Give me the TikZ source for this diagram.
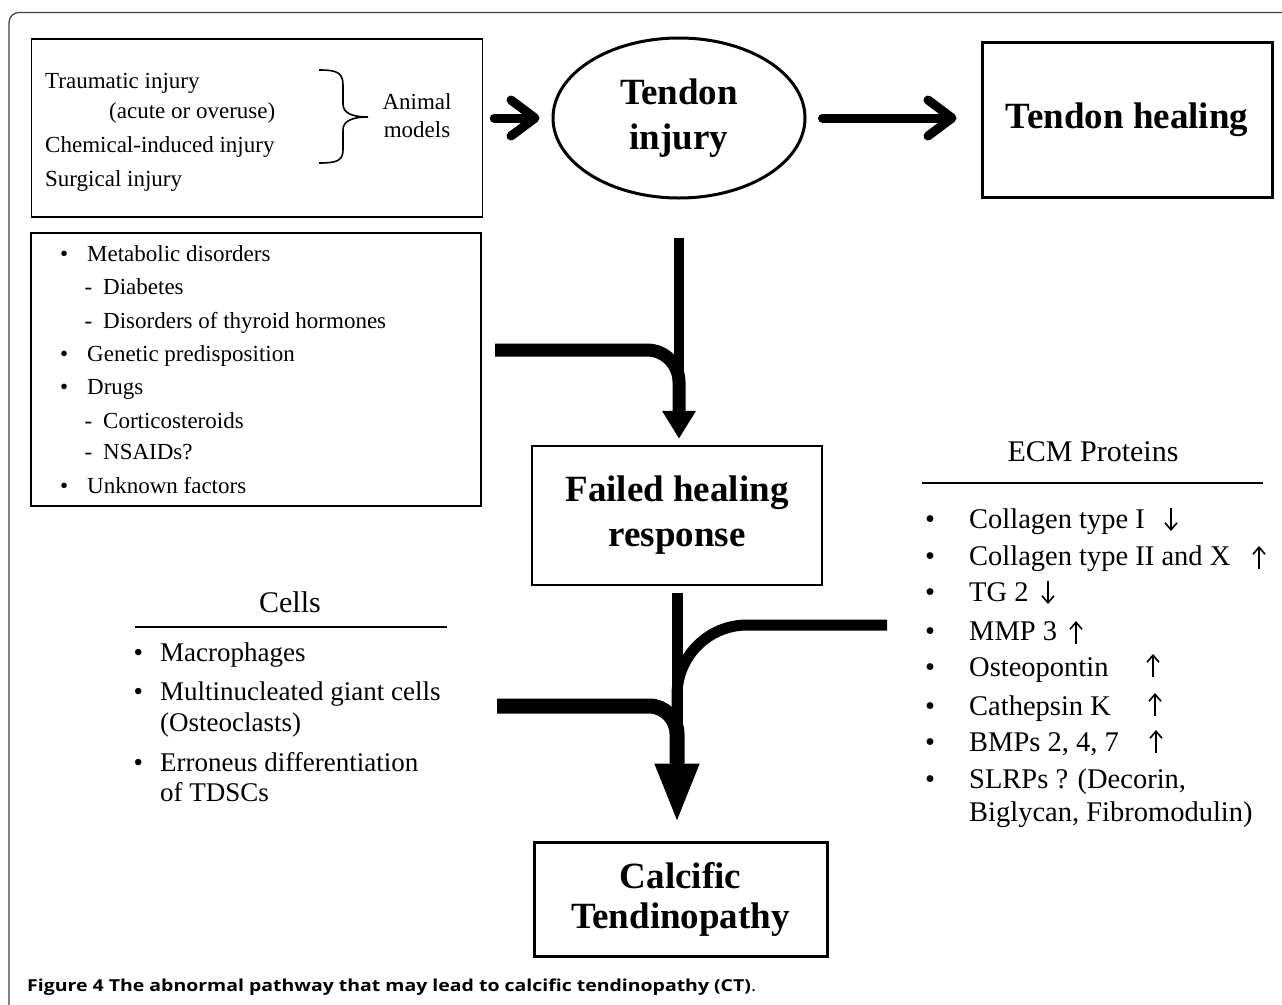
\documentclass[tikz,border=0pt]{standalone}
\usepackage{fontspec}
\setmainfont{Liberation Serif}
\newfontfamily\capfont{Open Sans}
\usepackage{tikz}
\usetikzlibrary{arrows.meta,shapes.geometric,positioning,calc}

\newcommand{\bul}[1]{\llap{\textbullet\hspace{#1}}}
\newcommand{\dsh}{\llap{-\hspace{11bp}}}

\tikzset{
  stage/.style={draw, line width=3bp, align=center, font=\fontsize{37bp}{45bp}\selectfont\bfseries},
  listbox/.style={draw, line width=1.5bp},
  anim/.style={anchor=west, font=\fontsize{23bp}{28bp}\selectfont, text height=16bp, text depth=3bp},
  cell/.style={anchor=west, font=\fontsize{27bp}{31bp}\selectfont, text height=19bp, text depth=3bp},
  ecm/.style={anchor=west, font=\fontsize{28.5bp}{33bp}\selectfont, text height=20bp, text depth=3bp},
  heading/.style={font=\fontsize{30bp}{34bp}\selectfont},
  flow/.style={line width=10bp},
  barb/.style={line width=9bp, line cap=round, -{Straight Barb[length=24bp,width=36bp,round]}},
  tick/.style={line width=1.6bp, -{Straight Barb[length=7bp,width=12bp]}},
}

\begin{document}
\begin{tikzpicture}[x=1bp,y=-1bp,every node/.style={inner sep=0pt}]
\useasboundingbox (0,0) rectangle (1282,1005);
% open frame
\draw[black!75, line width=1.2bp, rounded corners=10bp] (9,1005) -- (9,12.5) -- (1282,12.5);

%% top row
\node (animbox) [listbox, minimum width=451bp, minimum height=178bp] at (257,128) {};
\node (trauma) [anim] at (45,82) {Traumatic injury};
\node (acute) [anim] at (109,112) {(acute or overuse)};
\node (chem) [anim] at (45,146) {Chemical-induced injury};
\node (surg) [anim] at (45,180) {Surgical injury};
\draw[line width=1.6bp] (319,70) .. controls (336,70) and (343,72) .. (343,85) -- (343,104)
  .. controls (343,113) and (352,117) .. (368,117) .. controls (352,117) and (343,121) .. (343,130)
  -- (343,150) .. controls (343,161) and (336,163) .. (319,163);
\node (animal) [align=center, font=\fontsize{23bp}{28bp}\selectfont] at (417,116) {Animal\\models};

\node (injury) [stage, ellipse, minimum width=252bp, minimum height=160bp] at (679,118) {Tendon\\injury};
\node (heal) [stage, minimum width=290bp, minimum height=155bp] at (1127,119.5) {Tendon healing};
\draw[barb, shorten <=11bp, shorten >=12bp] (animbox.east |- injury.west) -- (injury.west);
\draw[barb, shorten <=16bp, shorten >=24bp] (injury.east) -- (injury.east -| heal.west);

%% risk factors
\node (factors) [listbox, minimum width=450bp, minimum height=273bp] at (256,369.5) {};
\node (f1) [anim] at (87,255) {\bul{19bp}Metabolic disorders};
\node (f2) [anim] at (103,288) {\dsh Diabetes};
\node (f3) [anim] at (103,322) {\dsh Disorders of thyroid hormones};
\node (f4) [anim] at (87,355) {\bul{19bp}Genetic predisposition};
\node (f5) [anim] at (87,388) {\bul{19bp}Drugs};
\node (f6) [anim] at (103,422) {\dsh Corticosteroids};
\node (f7) [anim] at (103,453) {\dsh NSAIDs?};
\node (f8) [anim] at (87,487) {\bul{19bp}Unknown factors};

\node (failed) [stage, line width=2.5bp, minimum width=290bp, minimum height=139bp] at (677,515.5) {Failed healing\\response};
\draw[flow, -{Triangle[length=28bp,width=32bp]}, shorten <=38bp, shorten >=6bp] (injury.south) -- (injury.south |- failed.north);
\coordinate (metin) at (495,350);
\draw[flow, line width=13bp, rounded corners=32bp] (metin) -| ($(injury.south |- failed.north)+(0,-34)$);

%% cells
\node (cellhead) [heading] at (290,602) {Cells};
\draw[line width=2bp] (135,627) -- (447,627);
\node (c1) [cell] at (160,653) {\bul{17bp}Macrophages};
\node (c2) [cell] at (160,692) {\bul{17bp}Multinucleated giant cells};
\node (c2b) [cell] at (160,723) {(Osteoclasts)};
\node (c3) [cell] at (160,763) {\bul{17bp}Erroneus differentiation};
\node (c3b) [cell] at (160,793) {of TDSCs};

%% ECM proteins
\node (ecmhead) [heading] at (1093,452) {ECM Proteins};
\draw[line width=2bp] (922,483) -- (1263,483);
\node (e1) [ecm] at (969,520) {\bul{34bp}Collagen type I};
\node (e2) [ecm] at (969,557) {\bul{34bp}Collagen type II and X};
\node (e3) [ecm] at (969,593) {\bul{34bp}TG 2};
\node (e4) [ecm] at (969,632) {\bul{34bp}MMP 3};
\node (e5) [ecm] at (969,668) {\bul{34bp}Osteopontin};
\node (e6) [ecm] at (969,707) {\bul{34bp}Cathepsin K};
\node (e7) [ecm] at (969,743) {\bul{34bp}BMPs 2, 4, 7};
\node (e8) [ecm] at (969,780) {\bul{34bp}SLRPs ? (Decorin,};
\node (e8b) [ecm] at (969,813) {Biglycan, Fibromodulin)};
\foreach \ax/\ay in {1171/520, 1048/593}
  \draw[tick] (\ax,\ay-12) -- (\ax,\ay+11);
\foreach \ax/\ay in {1259/557, 1076/632, 1153/665, 1155/704, 1156/741}
  \draw[tick] (\ax,\ay+12) -- (\ax,\ay-11);

%% outcome
\node (calc) [stage, minimum width=293bp, minimum height=114bp, font=\fontsize{37bp}{40bp}\selectfont\bfseries] at (680.5,899) {Calcific\\Tendinopathy};
\draw[flow, line width=11bp, -{Triangle[length=58bp,width=42bp]}, shorten <=7bp, shorten >=19bp] (failed.south) -- (failed.south |- calc.north);
\coordinate (cellin) at (497,706);
\coordinate (ecmin) at (887,625);
\draw[flow, line width=15bp, rounded corners=28bp] (cellin) -| ($(failed.south |- calc.north)+(0,-77)$);
\draw[flow, line width=11bp, rounded corners=70bp] (ecmin) -| ($(failed.south |- calc.north)+(0,-77)$);

\node (caption) [anchor=west, font=\capfont\fontsize{16.5bp}{20bp}\selectfont] at (27,987) {\scalebox{1.18}[1]{\textbf{Figure 4 The abnormal pathway that may lead to calcific tendinopathy (CT)}.}};
\end{tikzpicture}
\end{document}
